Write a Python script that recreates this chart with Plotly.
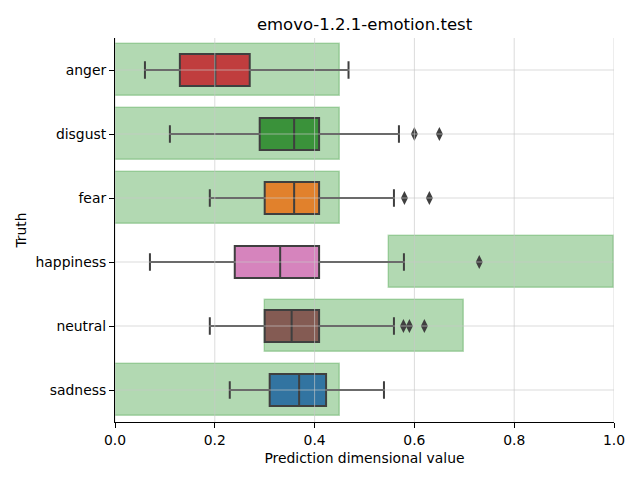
import plotly.graph_objects as go

CATEGORIES = ["anger", "disgust", "fear", "happiness", "neutral", "sadness"]
COLORS = ["#c03d3e", "#3a923a", "#e1812c", "#d684bd", "#845b53", "#3274a1"]

# box statistics
LOWER = [0.060, 0.110, 0.190, 0.070, 0.190, 0.230]
Q1 = [0.130, 0.290, 0.300, 0.240, 0.300, 0.310]
MEDIAN = [0.201, 0.359, 0.359, 0.331, 0.354, 0.369]
Q3 = [0.270, 0.409, 0.409, 0.409, 0.409, 0.423]
UPPER = [0.468, 0.569, 0.559, 0.579, 0.559, 0.539]
OUTLIERS = [[], [0.600, 0.650], [0.580, 0.630], [0.730], [0.578, 0.590, 0.620], []]

# expected ranges (green bands)
RANGE_LO = [0.0, 0.0, 0.0, 0.55, 0.30, 0.0]
RANGE_HI = [0.45, 0.45, 0.45, 1.0, 0.70, 0.45]

XTICKS = [0.0, 0.2, 0.4, 0.6, 0.8, 1.0]

idx = list(range(len(CATEGORIES)))
fig = go.Figure()

fig.add_trace(go.Bar(
    orientation="h", y=idx, base=RANGE_LO,
    x=[h - l for l, h in zip(RANGE_LO, RANGE_HI)],
    width=0.8,
    marker=dict(color="rgba(0,128,0,0.3)", line=dict(color="rgba(0,128,0,0.25)", width=1.5)),
    showlegend=False, hoverinfo="skip",
))

for i, c in enumerate(CATEGORIES):
    fig.add_trace(go.Box(
        orientation="h", y=[i], q1=[Q1[i]], median=[MEDIAN[i]], q3=[Q3[i]],
        lowerfence=[LOWER[i]], upperfence=[UPPER[i]],
        width=0.5, whiskerwidth=0.55,
        fillcolor=COLORS[i], line=dict(color="#3f3f3f", width=2),
        showlegend=False, name=c,
    ))
    if OUTLIERS[i]:
        fig.add_trace(go.Scatter(
            x=OUTLIERS[i], y=[i] * len(OUTLIERS[i]), mode="markers",
            marker=dict(symbol="diamond-tall", size=10, color="#3f3f3f"),
            showlegend=False,
        ))

grid_color = "rgba(200,200,200,0.65)"
for t in XTICKS:
    fig.add_shape(type="line", xref="x", yref="paper", x0=t, x1=t, y0=0, y1=1,
                  line=dict(color=grid_color, width=1), layer="above")
for i in idx:
    fig.add_shape(type="line", xref="paper", yref="y", x0=0, x1=1, y0=i, y1=i,
                  line=dict(color=grid_color, width=1), layer="above")

font = "DejaVu Sans"
fig.update_layout(
    width=640, height=480,
    margin=dict(l=115, r=26, t=38, b=58),
    paper_bgcolor="white", plot_bgcolor="white",
    font=dict(family=font, size=14, color="black"),
    title=dict(text="emovo-1.2.1-emotion.test", x=0.5, xref="paper",
               y=1 - 24 / 480, yref="container", yanchor="middle",
               font=dict(size=16.5, color="black")),
    bargap=0,
)
fig.update_xaxes(
    range=[0, 1], tickvals=XTICKS, tickformat=".1f", showgrid=False, zeroline=False,
    showline=True, linecolor="black", linewidth=1.1, ticks="outside", ticklen=5,
    tickcolor="black", tickfont=dict(size=13.9),
    title=dict(text="Prediction dimensional value", font=dict(size=13.9), standoff=6),
)
fig.update_yaxes(
    range=[5.5, -0.5], tickvals=idx, ticktext=CATEGORIES, showgrid=False, zeroline=False,
    showline=True, linecolor="black", linewidth=1.1, ticks="outside", ticklen=5,
    tickcolor="black", tickfont=dict(size=13.9),
    title=dict(text="Truth", font=dict(size=13.9), standoff=5),
)

fig.write_html("out.html")
